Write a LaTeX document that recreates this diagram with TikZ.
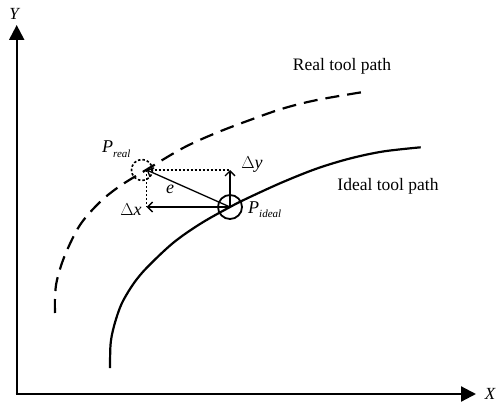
\documentclass[tikz,border=0pt]{standalone}
\usepackage{fontspec}
\setmainfont{Liberation Serif}
\usetikzlibrary{arrows.meta}
\tikzset{
  axis/.style={line width=2.2pt,-{Triangle[length=15pt,width=15pt]}},
  pathline/.style={line width=2.2pt},
  realline/.style={line width=2.2pt,dash pattern=on 14pt off 8pt},
  vec/.style={line width=1.3pt,-{Straight Barb[length=5pt,width=10pt,line width=1.3pt]}},
  dotline/.style={line width=1.2pt,dash pattern=on 2pt off 2pt},
  lbl/.style={inner sep=0pt,font=\fontsize{18}{20}\selectfont},
  txt/.style={inner sep=0pt,font=\fontsize{17.5}{20}\selectfont}
}
\newcommand{\subtxt}[1]{\raisebox{-0.55ex}{\fontsize{11}{12}\selectfont\itshape #1}}
\begin{document}
\begin{tikzpicture}[x=1pt,y=-1pt]
\useasboundingbox (0,0) rectangle (497,406);
% axes
\coordinate (O) at (16.7,394);
\coordinate (Ytip) at (16.7,25);
\coordinate (Xtip) at (476,394);
\draw[axis] (O) -- (Ytip);
\draw[axis] ([xshift=-1.1pt]O) -- (Xtip);
\node[lbl,font=\fontsize{17}{19}\selectfont\itshape] (Ylab) at (14,14) {Y};
\node[lbl,font=\fontsize{17}{19}\selectfont\itshape] (Xlab) at (490,394) {X};
% ideal path
\draw[pathline] plot[smooth,tension=0.55] coordinates {(110,368) (110.5,345) (113,330) (118,313) (123.5,300) (134,283) (147,267.5) (173,243) (200,224) (230,207) (250,197) (283,182) (317,168.5) (350,158.5) (383,151.5) (420.7,147.3)};
% real path
\draw[realline] plot[smooth,tension=0.55] coordinates {(55,313) (55,297) (57,280) (65,255) (80,225) (100,202) (120,186) (146,170) (183,148) (216,133) (250,120) (283,108.5) (317,100) (365,91.7)};
% points
\coordinate (pi) at (230,207);
\coordinate (pr) at (146.7,170);
\coordinate (dyend) at (230,170);
\coordinate (dxend) at (146.7,207);
\node[draw,circle,line width=1.8pt,minimum size=24pt,inner sep=0pt] (ci) at (pi) {};
\node[draw,circle,line width=1.6pt,dash pattern=on 2.5pt off 2pt,minimum size=21pt,inner sep=0pt] (cr) at (142,170) {};
\draw[dotline] (pr) -- (dyend);
\draw[dotline] (pr) -- (dxend);
\draw[vec] (pi) -- (dyend);
\draw[vec] (pi) -- (dxend);
\draw[vec] (pi) -- (pr);
% labels
\node[lbl] (dylab) at (252,165) {$\Delta$\textit{y}};
\node[lbl] (dxlab) at (131,210) {$\Delta$\textit{x}};
\node[lbl] (elab) at (170,189) {\textit{e}};
\node[lbl,anchor=base west] (prlab) at (102,153) {\textit{P}\subtxt{real}};
\node[lbl,anchor=base west] (pilab) at (248,213) {\textit{P}\subtxt{ideal}};
\node[txt] (rtp) at (342,66) {Real tool path};
\node[txt] (itp) at (388,186) {Ideal tool path};
\end{tikzpicture}
\end{document}
